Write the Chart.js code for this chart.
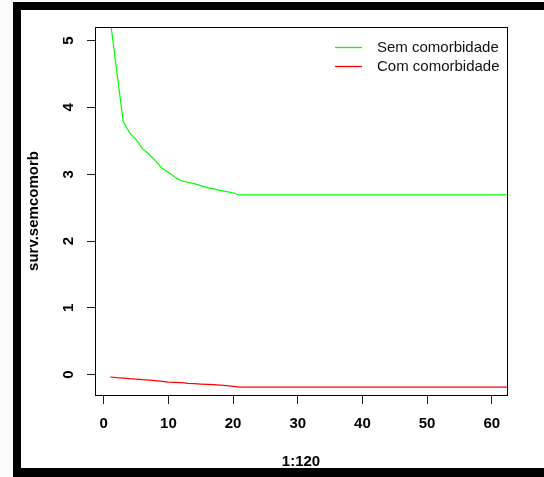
<!DOCTYPE html>
<html>
<head>
<meta charset="utf-8">
<script src="https://cdn.jsdelivr.net/npm/chart.js@4/dist/chart.umd.min.js"></script>
<style>
  html, body { margin: 0; padding: 0; background: #fbfbfb; overflow: hidden; }
  #wrap { position: relative; width: 544px; height: 477px; }
  canvas { display: block; position: absolute; left: 0; top: 0; }
  .band { position: absolute; background: #000; pointer-events: none; z-index: 5; }
  #bandTop { left: 13px; top: 2px; width: 531px; height: 8px; }
  #bandLeft { left: 13px; top: 2px; width: 8px; height: 475px; }
  #bandBottom { left: 13px; top: 468px; width: 531px; height: 9px; }
</style>
</head>
<body>
<div id="wrap">
  <canvas id="survChart" width="544" height="477"></canvas>
  <div class="band" id="bandTop"></div>
  <div class="band" id="bandLeft"></div>
  <div class="band" id="bandBottom"></div>
</div>
<script>
// time points (1:120, shown up to ~62)
const tempo = [1, 2, 3, 4, 5, 6, 7, 8, 9, 10, 11, 12, 13, 14, 15, 16, 17, 18, 19, 20, 21, 120];
const semComorb = [5.31, 4.55, 3.79, 3.62, 3.52, 3.38, 3.30, 3.20, 3.09, 3.03, 2.96, 2.90, 2.88, 2.86, 2.83, 2.80, 2.78, 2.76, 2.74, 2.72, 2.69, 2.69];
const comComorb = [-0.035, -0.045, -0.05, -0.06, -0.065, -0.075, -0.08, -0.09, -0.10, -0.11, -0.115, -0.12, -0.13, -0.135, -0.14, -0.145, -0.15, -0.155, -0.165, -0.175, -0.185, -0.185];
const xTicks = [0, 10, 20, 30, 40, 50, 60];
const yTicks = [0, 1, 2, 3, 4, 5];
const seriesNames = ['Sem comorbidade', 'Com comorbidade'];
const seriesColors = ['#00ff00', '#ff0000'];

const toPoints = ys => tempo.map((t, i) => ({ x: t, y: ys[i] }));
const fontFam = '"Liberation Sans", Arial, sans-serif';

// R-like box, rotated y labels and legend
const rStyle = {
    id: 'rStyle',
    beforeDraw: chart => {
        const { ctx, width, height } = chart;
        ctx.save();
        ctx.fillStyle = '#ffffff';
        ctx.fillRect(13, 2, width - 13, height - 2);
        ctx.restore();
    },
    afterDraw: chart => {
        const { ctx, width, chartArea: a, scales: { y } } = chart;
        ctx.save();
        // top band of the outer frame, also on the canvas
        ctx.fillStyle = '#000';
        ctx.fillRect(13, 2, width - 13, 8);

        ctx.strokeStyle = '#000';
        ctx.lineWidth = 1;
        ctx.strokeRect(Math.round(a.left) + 0.5, Math.round(a.top) + 0.5,
            Math.round(a.right - a.left), Math.round(a.bottom - a.top));

        // y tick labels, rotated like R (las = 0)
        ctx.fillStyle = '#000';
        ctx.font = 'bold 15px ' + fontFam;
        ctx.textAlign = 'center';
        ctx.textBaseline = 'middle';
        y.ticks.forEach(t => {
            const py = y.getPixelForValue(t.value);
            ctx.save();
            ctx.translate(69, py);
            ctx.rotate(-Math.PI / 2);
            ctx.fillText(String(t.value), 0, 0);
            ctx.restore();
        });

        // legend, top right
        ctx.font = '15px ' + fontFam;
        ctx.textAlign = 'left';
        seriesNames.forEach((name, i) => {
            const ly = a.top + 20 + i * 18.5;
            ctx.strokeStyle = seriesColors[i];
            ctx.lineWidth = 1.3;
            ctx.beginPath();
            ctx.moveTo(a.right - 172, Math.round(ly) + 0.5);
            ctx.lineTo(a.right - 145, Math.round(ly) + 0.5);
            ctx.stroke();
            ctx.fillStyle = '#111';
            ctx.fillText(name, a.right - 130, ly + 1);
        });
        ctx.restore();
    }
};

new Chart(document.getElementById('survChart'), {
    type: 'line',
    data: {
        datasets: [
            { label: seriesNames[0], data: toPoints(semComorb), borderColor: seriesColors[0], borderWidth: 1.2 },
            { label: seriesNames[1], data: toPoints(comComorb), borderColor: seriesColors[1], borderWidth: 1.2 }
        ]
    },
    options: {
        responsive: false,
        animation: false,
        layout: { padding: { top: 27, right: 37, left: 0, bottom: 0 } },
        elements: { point: { radius: 0 }, line: { tension: 0 } },
        plugins: { legend: { display: false }, tooltip: { enabled: false } },
        scales: {
            x: {
                type: 'linear',
                min: -1.36,
                max: 62.36,
                afterFit: s => { s.height = 82; },
                afterBuildTicks: s => { s.ticks = xTicks.map(v => ({ value: v })); },
                border: { display: false },
                grid: { drawOnChartArea: false, drawTicks: true, tickLength: 9, color: '#222' },
                ticks: {
                    padding: 11,
                    color: '#000',
                    maxRotation: 0,
                    font: { family: fontFam, size: 15, weight: 'bold' }
                },
                title: {
                    display: true,
                    text: '1:120',
                    color: '#000',
                    padding: { top: 0, bottom: 6 },
                    font: { family: fontFam, size: 15, weight: 'bold' }
                }
            },
            y: {
                min: -0.304,
                max: 5.204,
                afterFit: s => { s.width = 95; },
                afterBuildTicks: s => { s.ticks = yTicks.map(v => ({ value: v })); },
                border: { display: false },
                grid: { drawOnChartArea: false, drawTicks: true, tickLength: 8, color: '#222' },
                ticks: { display: false },
                title: {
                    display: true,
                    text: 'surv.semcomorb',
                    color: '#000',
                    padding: { top: 25, bottom: 0 },
                    font: { family: fontFam, size: 15, weight: 'bold' }
                }
            }
        }
    },
    plugins: [rStyle]
});
</script>
</body>
</html>
